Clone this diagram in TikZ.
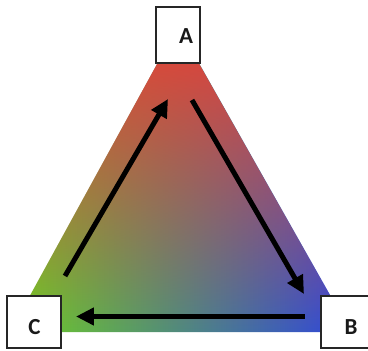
\documentclass[tikz,border=0pt]{standalone}
\usepackage{fontspec}
\setmainfont{Carlito}
\usetikzlibrary{arrows.meta,fadings}
\definecolor{redtop}{RGB}{232,64,52}
\definecolor{greenleft}{RGB}{112,208,32}
\definecolor{blueright}{RGB}{48,68,222}
\tikzfading[name=redfade, top color=transparent!0, middle color=transparent!36,
  bottom color=transparent!100]

\begin{document}
\begin{tikzpicture}[x=1pt,y=-1pt,
  corner/.style={draw=black!85, line width=1.3pt, fill=white, inner sep=0pt},
  letter/.style={font=\fontsize{23}{23}\selectfont\bfseries, text=black!90},
  flow/.style={line width=5pt, -{Triangle[length=18pt,width=17pt]}}]
  \useasboundingbox (0,0) rectangle (368,351);
  % colour triangle
  \coordinate (tr) at (178,26);
  \coordinate (tg) at (10,332);
  \coordinate (tb) at (351,332);
  \shade[left color=greenleft, right color=blueright] (tr) -- (tg) -- (tb) -- cycle;
  \fill[redtop, path fading=redfade] (tr) -- (tg) -- (tb) -- cycle;
  % arrow ends
  \coordinate (ab0) at (192,100);
  \coordinate (ab1) at (304,294);
  \coordinate (bc0) at (305,316.5);
  \coordinate (bc1) at (76,316.5);
  \coordinate (ca0) at (65,276);
  \coordinate (ca1) at (168,99);
  \draw[flow] (ab0) -- (ab1);
  \draw[flow] (bc0) -- (bc1);
  \draw[flow] (ca0) -- (ca1);
  % corners
  \node[corner, minimum width=44pt, minimum height=56pt,
    label={[letter,xshift=8pt,yshift=-1pt]center:A}] (A) at (178,35) {};
  \node[corner, minimum width=54pt, minimum height=52pt,
    label={[letter,xshift=3pt,yshift=-5pt]center:B}] (B) at (348,322) {};
  \node[corner, minimum width=54pt, minimum height=52pt,
    label={[letter,xshift=0.5pt,yshift=-5pt]center:C}] (C) at (34,322) {};
\end{tikzpicture}
\end{document}
